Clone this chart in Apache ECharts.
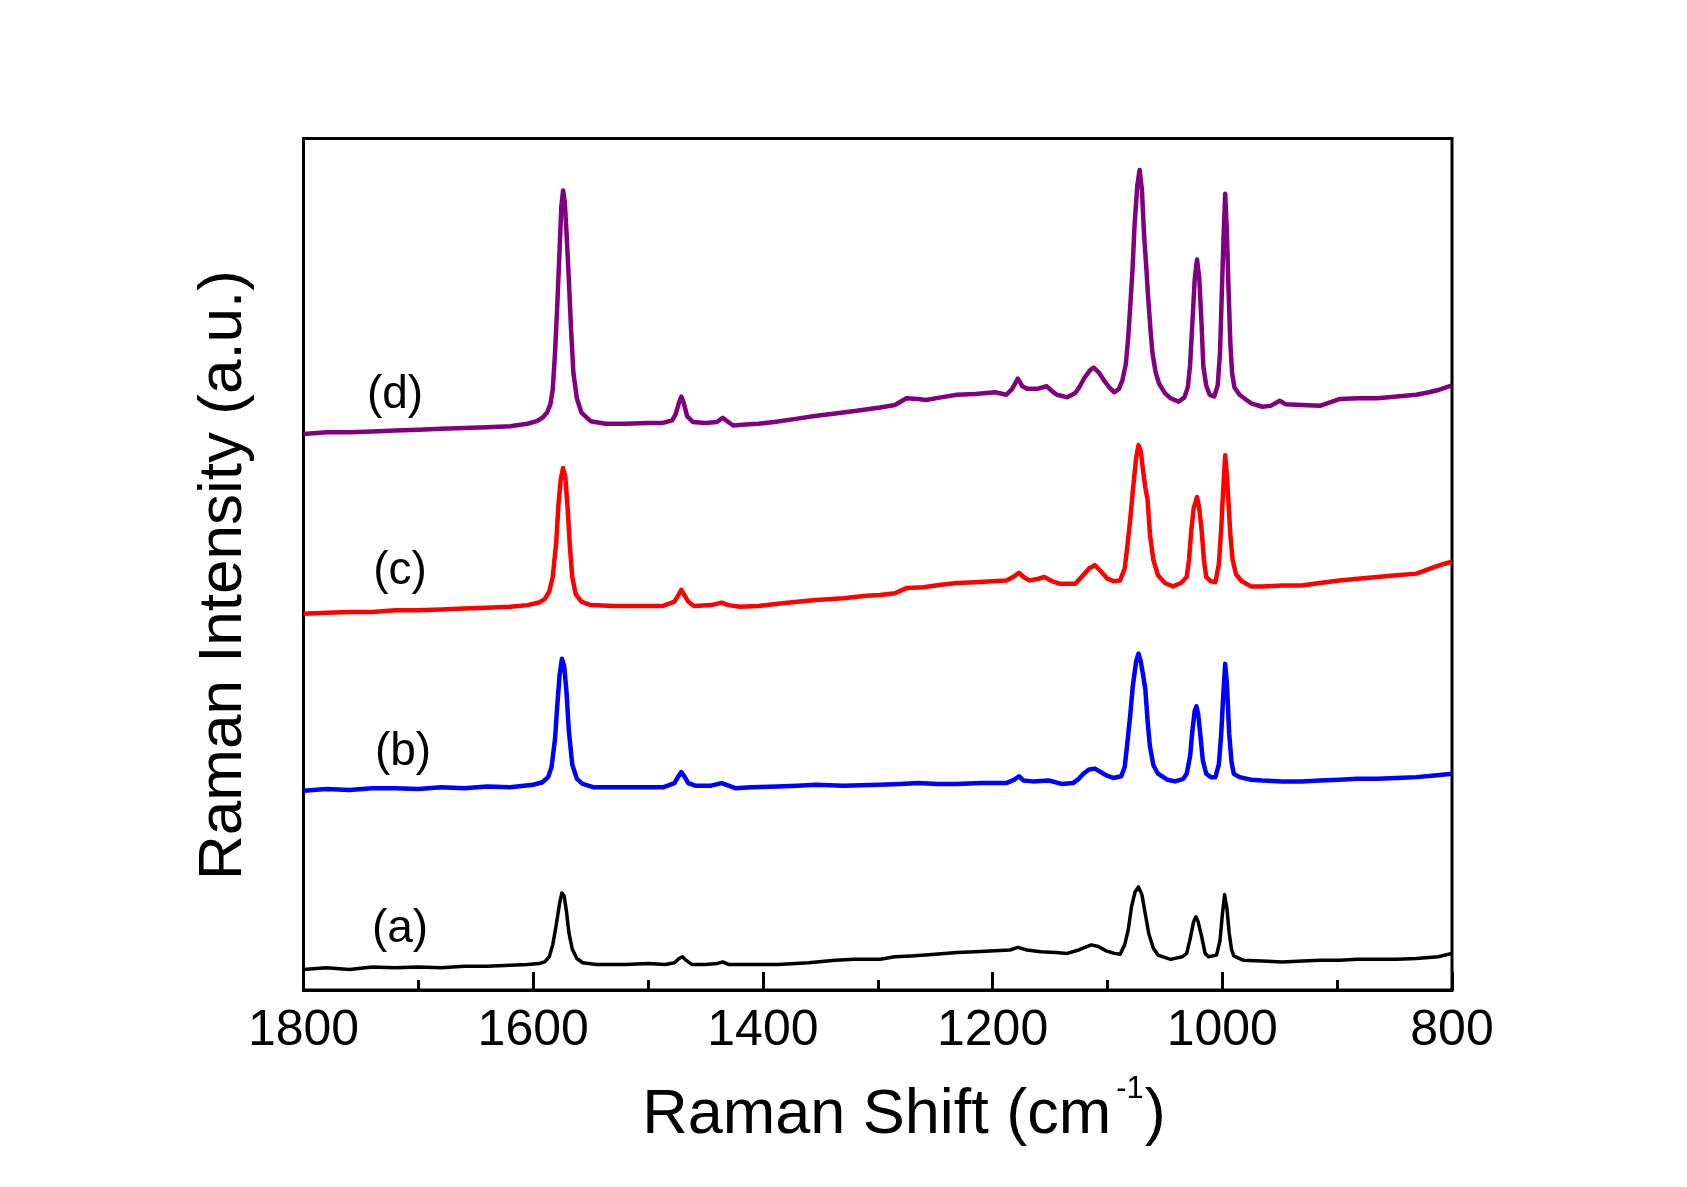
<!DOCTYPE html>
<html>
<head>
<meta charset="utf-8">
<script src="https://cdn.jsdelivr.net/npm/echarts@6/dist/echarts.min.js"></script>
<style>html,body{margin:0;padding:0;background:#fff;}#c{width:1687px;height:1187px;}</style>
</head>
<body>
<div id="c"></div>
<script>
// Raman shift (cm^-1) vs. offset intensity (a.u.)
const specA = [[1800,2.4],[1780,2.6],[1760,2.4],[1740,2.7],[1720,2.6],[1700,2.7],[1680,2.6],[1660,2.8],[1640,2.8],[1620,2.9],[1605,3.0],[1595,3.1],[1590,3.3],[1586,3.9],[1583,5.3],[1580,7.6],[1577,10.2],[1575,11.4],[1573,11.0],[1571,9.2],[1569,6.8],[1566,4.8],[1562,3.7],[1557,3.2],[1545,3.0],[1520,3.0],[1500,3.1],[1485,3.0],[1477,3.2],[1473,3.7],[1470,3.9],[1467,3.5],[1462,3.0],[1450,3.0],[1440,3.1],[1435,3.3],[1430,3.0],[1410,3.0],[1387,3.0],[1360,3.2],[1337,3.5],[1320,3.6],[1298,3.6],[1285,3.9],[1271,4.0],[1250,4.2],[1231,4.4],[1215,4.5],[1198,4.6],[1185,4.7],[1178,5.0],[1170,4.7],[1158,4.5],[1145,4.4],[1135,4.3],[1125,4.7],[1114,5.3],[1108,5.1],[1101,4.6],[1094,4.3],[1089,4.2],[1085,5.3],[1082,7.0],[1079,9.8],[1076,11.5],[1073,12.1],[1070,11.2],[1067,8.9],[1064,6.6],[1060,4.9],[1056,4.1],[1045,3.6],[1035,3.9],[1031,4.3],[1028,6.0],[1025,8.0],[1023,8.6],[1021,8.0],[1018,6.3],[1015,4.3],[1012,3.9],[1005,4.1],[1002,5.8],[1000,8.8],[998,11.2],[996,9.6],[994,6.7],[992,4.8],[990,4.0],[982,3.5],[965,3.4],[948,3.3],[930,3.4],[915,3.5],[898,3.5],[882,3.6],[865,3.6],[848,3.6],[831,3.7],[812,3.9],[800,4.3]];

const specB = [[1800,23.4],[1780,23.6],[1760,23.5],[1740,23.7],[1720,23.7],[1700,23.6],[1680,23.8],[1660,23.7],[1640,23.9],[1620,23.8],[1600,24.1],[1592,24.4],[1587,25.0],[1584,26.2],[1581,29.5],[1579,33.5],[1577,37.0],[1575,38.9],[1573,38.0],[1571,35.0],[1569,30.5],[1566,26.5],[1562,24.8],[1557,24.2],[1547,23.8],[1520,23.8],[1500,23.8],[1487,23.8],[1477,24.3],[1474,25.0],[1471,25.6],[1468,25.0],[1465,24.3],[1459,24.0],[1445,24.0],[1436,24.3],[1430,24.0],[1424,23.7],[1410,23.8],[1387,23.9],[1370,24.0],[1354,24.1],[1330,24.0],[1298,24.1],[1280,24.2],[1265,24.3],[1248,24.2],[1231,24.2],[1210,24.3],[1188,24.3],[1181,24.7],[1177,25.1],[1173,24.6],[1165,24.5],[1151,24.6],[1140,24.2],[1130,24.3],[1125,24.8],[1121,25.4],[1116,25.9],[1111,26.0],[1106,25.6],[1101,25.2],[1095,24.9],[1088,25.1],[1085,26.2],[1083,28.6],[1080,32.5],[1078,35.6],[1075,38.6],[1073,39.5],[1071,38.6],[1069,37.0],[1067,35.3],[1065,31.5],[1063,28.6],[1060,26.4],[1056,25.4],[1048,24.7],[1041,24.5],[1034,24.8],[1031,25.4],[1028,27.5],[1026,30.5],[1024,32.8],[1022.5,33.3],[1021,32.4],[1019,29.8],[1017,27.0],[1014,25.4],[1010,25.0],[1006,25.0],[1003,26.5],[1001,30.0],[999,35.0],[997.5,38.3],[996,36.0],[994,30.1],[992,26.8],[990,25.4],[985,25.0],[975,24.7],[965,24.6],[948,24.5],[931,24.5],[915,24.6],[898,24.7],[882,24.8],[865,24.8],[848,24.9],[831,25.0],[815,25.2],[800,25.4]];

const specC = [[1800,44.2],[1780,44.3],[1760,44.4],[1740,44.4],[1720,44.6],[1700,44.6],[1680,44.7],[1660,44.8],[1640,44.9],[1620,45.0],[1605,45.2],[1595,45.5],[1590,45.9],[1586,46.8],[1583,48.5],[1580,52.5],[1578,57.0],[1576,60.0],[1574,61.3],[1572,60.2],[1570,56.5],[1568,52.0],[1566,48.5],[1563,46.5],[1558,45.6],[1550,45.2],[1530,45.1],[1510,45.1],[1487,45.1],[1477,45.6],[1474,46.3],[1471,47.0],[1468,46.3],[1465,45.6],[1460,45.1],[1445,45.2],[1436,45.5],[1430,45.2],[1420,45.0],[1404,45.1],[1385,45.4],[1370,45.6],[1354,45.8],[1330,46.0],[1310,46.3],[1298,46.4],[1285,46.6],[1275,47.2],[1260,47.3],[1245,47.6],[1231,47.8],[1215,47.9],[1200,48.0],[1188,48.1],[1181,48.6],[1177,49.0],[1173,48.5],[1168,48.1],[1160,48.3],[1155,48.5],[1148,48.0],[1141,47.7],[1128,47.7],[1122,48.6],[1116,49.5],[1111,49.9],[1106,49.2],[1100,48.3],[1094,48.0],[1089,48.1],[1085,49.5],[1083,51.7],[1080,55.5],[1078,58.5],[1075,62.5],[1073,64.0],[1071,63.3],[1069,61.0],[1067,59.0],[1065,57.5],[1063,53.5],[1060,50.5],[1056,48.7],[1050,47.8],[1043,47.4],[1036,47.8],[1031,48.5],[1029,50.5],[1027,54.0],[1025,56.5],[1022,57.9],[1020,56.5],[1018,54.0],[1016,50.5],[1014,48.5],[1010,48.0],[1006,47.9],[1003,50.0],[1001,54.0],[999.5,58.0],[997.5,62.8],[996,60.5],[994.5,57.0],[993,53.5],[991,50.5],[988,48.8],[983,48.0],[975,47.4],[965,47.4],[948,47.5],[931,47.5],[915,47.8],[898,48.1],[882,48.3],[865,48.5],[848,48.7],[831,48.9],[815,49.7],[808,50.0],[800,50.3]];

const specD = [[1800,65.3],[1780,65.5],[1760,65.5],[1740,65.6],[1720,65.7],[1700,65.8],[1680,65.9],[1660,66.0],[1640,66.1],[1620,66.2],[1605,66.5],[1597,66.8],[1592,67.2],[1588,67.8],[1585,68.8],[1583,70.5],[1581,74.8],[1579,80.5],[1577,87.0],[1575.5,92.0],[1574,93.9],[1572.5,92.5],[1571,89.0],[1569,83.5],[1567,77.5],[1565,72.5],[1562,69.5],[1558,67.8],[1550,66.8],[1537,66.5],[1520,66.5],[1500,66.6],[1487,66.6],[1479,66.9],[1476,67.6],[1473,69.0],[1471,69.7],[1469,69.0],[1466,67.4],[1461,66.7],[1450,66.6],[1440,66.7],[1435,67.2],[1431,66.8],[1426,66.3],[1415,66.4],[1404,66.5],[1390,66.7],[1370,67.1],[1355,67.4],[1337,67.7],[1320,68.0],[1298,68.4],[1285,68.7],[1275,69.5],[1265,69.4],[1258,69.3],[1245,69.6],[1231,69.9],[1215,70.0],[1198,70.2],[1188,69.9],[1183,70.6],[1178,71.8],[1174,70.9],[1170,70.6],[1161,70.6],[1153,70.9],[1148,70.3],[1144,69.9],[1135,69.6],[1128,70.1],[1124,70.9],[1120,71.9],[1115,72.8],[1112,73.1],[1108,72.6],[1103,71.6],[1098,70.7],[1094,70.2],[1090,70.6],[1087,71.6],[1084,73.5],[1082,76.5],[1080,80.6],[1078,85.0],[1076.5,89.6],[1074,94.5],[1072,96.3],[1070,94.0],[1068,88.4],[1066,84.5],[1064.8,81.8],[1062.5,77.5],[1060.8,74.8],[1058,72.5],[1055,71.2],[1050,70.1],[1045,69.5],[1038,69.1],[1033,69.6],[1030,70.8],[1028,73.5],[1026,78.5],[1024,83.5],[1022,85.8],[1020,83.5],[1018,78.0],[1016.5,73.2],[1014,71.0],[1011,69.9],[1007,69.7],[1004,71.0],[1002,74.8],[1000.5,81.5],[999,88.0],[997.5,93.5],[996,89.0],[994.5,82.0],[993,76.0],[991.5,72.5],[989.5,70.8],[985,69.9],[975,68.9],[965,68.5],[958,68.6],[950,69.2],[945,68.8],[931,68.7],[915,68.6],[898,69.4],[882,69.5],[865,69.5],[848,69.7],[831,69.9],[820,70.2],[811,70.5],[800,71.0]];

const seriesNames = ['(a)', '(b)', '(c)', '(d)'];
const seriesColors = ['#000000', '#0000ff', '#ff0000', '#800080'];
const seriesWidths = [3.5, 4.5, 4.5, 4.5];
const seriesData = [specA, specB, specC, specD];
const xTicks = [1800, 1600, 1400, 1200, 1000, 800];
const xTitleMain = 'Raman Shift (cm';
const xTitleSup = '-1';
const xTitleEnd = ')';
const yTitle = 'Raman Intensity (a.u.)';

const FONT = '"Liberation Sans", Arial, sans-serif';
const chart = echarts.init(document.getElementById('c'), null, {renderer: 'canvas'});

const labelPos = [[400, 929], [403, 752], [400, 571], [395, 395]];

// measure title pieces for superscript placement
const mctx = document.createElement('canvas').getContext('2d');
function tw(t, size) { mctx.font = size + 'px ' + FONT; return mctx.measureText(t).width; }
const mainSize = 63, supSize = 31;
const wMain = tw(xTitleMain, mainSize), wSup = tw(xTitleSup, supSize), wEnd = tw(xTitleEnd, mainSize);
const supGap = 5;
const totalW = wMain + supGap + wSup + 1 + wEnd;
const titleCx = 904;
const x0 = titleCx - totalW / 2;

chart.setOption({
  animation: false,
  backgroundColor: '#ffffff',
  grid: {
    left: 303.5, right: 235, top: 138.5, bottom: 197,
    show: true, borderColor: '#000', borderWidth: 3, backgroundColor: 'transparent'
  },
  xAxis: {
    type: 'value', min: 800, max: 1800, interval: 200, inverse: true,
    axisLine: {show: true, onZero: false, lineStyle: {color: '#000', width: 3}},
    axisTick: {show: true, inside: true, length: 18, lineStyle: {color: '#000', width: 3}},
    minorTick: {show: true, splitNumber: 2, length: 10, lineStyle: {color: '#000', width: 3}},
    splitLine: {show: false},
    axisLabel: {
      color: '#000', fontSize: 50, fontFamily: FONT, margin: 16,
      formatter: v => (xTicks.indexOf(v) >= 0 ? String(v) : '')
    }
  },
  yAxis: {
    type: 'value', min: 0, max: 100, show: false
  },
  series: seriesData.map((d, i) => ({
    name: seriesNames[i],
    type: 'line',
    data: d,
    showSymbol: false,
    symbol: 'none',
    lineStyle: {color: seriesColors[i], width: seriesWidths[i], join: 'round'},
    itemStyle: {color: seriesColors[i]},
    z: 3
  })),
  graphic: [
    ...seriesNames.map((n, i) => ({
      type: 'text', x: labelPos[i][0], y: labelPos[i][1], z: 10,
      style: {text: n, font: '46px ' + FONT, fill: '#000', textAlign: 'center', textVerticalAlign: 'middle'}
    })),
    {
      type: 'text', x: x0, y: 1116, z: 10,
      style: {text: xTitleMain, font: mainSize + 'px ' + FONT, fill: '#000', textAlign: 'left', textVerticalAlign: 'middle'}
    },
    {
      type: 'text', x: x0 + wMain + supGap, y: 1089, z: 10,
      style: {text: xTitleSup, font: supSize + 'px ' + FONT, fill: '#000', textAlign: 'left', textVerticalAlign: 'middle'}
    },
    {
      type: 'text', x: x0 + wMain + supGap + wSup + 1, y: 1116, z: 10,
      style: {text: xTitleEnd, font: mainSize + 'px ' + FONT, fill: '#000', textAlign: 'left', textVerticalAlign: 'middle'}
    },
    {
      type: 'text', x: 224, y: 575, rotation: Math.PI / 2, z: 10,
      style: {text: yTitle, font: '62px ' + FONT, fill: '#000', textAlign: 'center', textVerticalAlign: 'middle'}
    }
  ]
});
</script>
</body>
</html>
